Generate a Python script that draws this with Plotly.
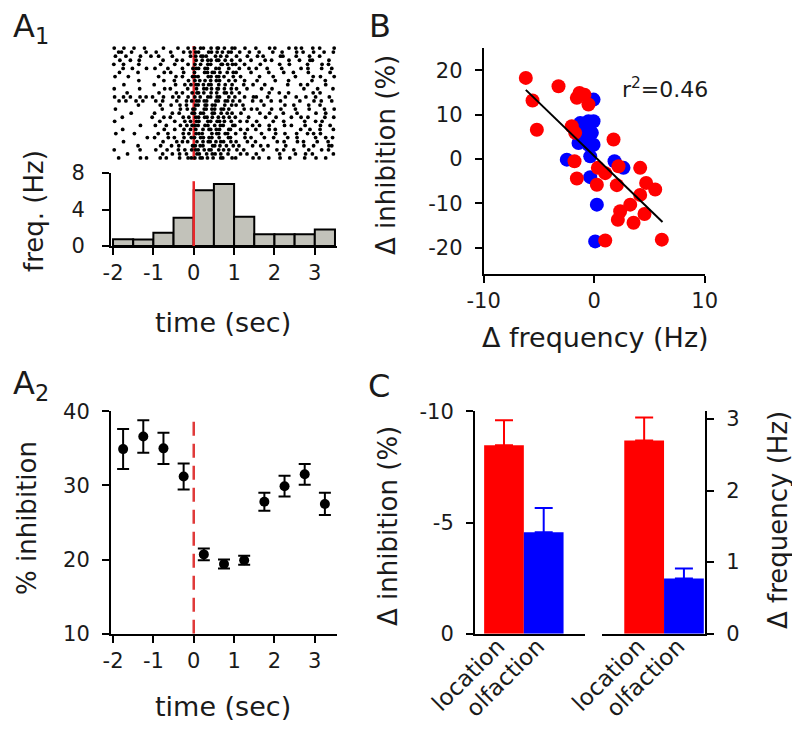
import plotly.graph_objects as go

# ---------------- data ----------------
# A1 raster: one string per trial; each char is a 0.1 s bin starting at -2 s.
# '.' = no spike, digit d = spike at d/10 of the way through that bin.
raster_t0 = -2.0
raster_dt = 0.1
raster_rows = [
    "3.7..2.8.." "..5...1.6." "274.3816.5" "2.7.." "4..8.1..6." "37..5.2..8",
    ".41.6...2." "7...3..5.1" "52.748.163" ".4.8." ".2..6.9..." "5.1.7..3.6",
    "6..2..8..4" ".3..7....2" "5831.47.2." "6..3." "8.2...51.." "4..7..2...",
    ".7..3.5..." "..4..8.2.." "6.153728.4" ".5..2" "..7.3...6." ".2.84...5.",
    "2.6...4..." ".8...3..6." "37.52.8146" "4.6.." ".5....3.7." "...2..8.4.",
    "..5.8...3." "4..6...2.8" "6284.53.7." ".3.7." "5..2..8..." ".6.3..7..2",
    ".6....2..." "..7.3..5.." "2.74615.38" "5...2" "...6...3.7" "...4....8.",
    "5..8......" ".3...6.2.7" "41.63725.8" ".6..." ".3..7....." "2...6.4..8",
    "......4..." "..6..2..7." "358.264.7." "3.6.." "7....2..5." "....3..6..",
    "..7......." "2....5.8.3" "61473.28.5" "..4.7" "..6.....3." ".5.2...7..",
    "3.....6..." "..8.2...5." "7.524816.3" "6..2." ".8..4....." "..3..7...5",
    "...5......" ".4...7.2.6" "825.37.614" ".3..." "...7..2.5." "....6.3...",
    "4.6.3.7.28" "..5.8.3.6." "36.5284.7." "2.6.8" "5..3...7.." "4.8..2..6.",
    ".5.2.7.4.." "6.3..8..25" "7362.51847" ".4..6" ".7..2.5..." ".3..8.6..2",
    "......3..." ".7..4.6.2." "518263.7.4" "5.2.." "..4....6.8" "...5..3...",
    "6........." "..2...7.48" "3.6152847." "..5.3" "7...3.6..." "2..6...4.8",
    "....5....." "3...7.4..6" "274.618.35" ".7..." ".4.8...2.." "6....3.7..",
    "..3......7" "..6.2..48." "52736.148." "3..6." "..8..4...2" ".6.3...5.7",
    "4........." ".6...3.8.2" "73.52846.3" ".5.2." "6...7..3.." "..5..28...",
    "......8..." "5..2..7.36" "4185.263.7" "2...6" ".3.7...5.2" "..6...4.8.",
    "..4......." "..7..3.6.2" "5.38264.71" ".6.3." "4..7.2...." ".5.8..3..6",
    "7....3...." ".2.6...48." "631.57284." "4.7.." ".8...3.6.." "5..27.4...",
    "........5." "3..7.2.6.4" "27485.3.61" "..7.2" "..5.8...3." "6....2.7.4",
    "..6......." "..4..8.25." "8.361574.2" "5..3." "3....7.4.." "7.2..6..3.",
    "......2..." ".8..5.3..7" "463.725.18" ".2..6" ".6.4...8.." "..3.7...52",
    "3.....7..." "6..4..28.5" "51683.247." "7.4.." "..2..6.3.8" "...5..7.4.",
    "...6......" "..3.7.5.2." "84.2637.5." ".6.2." "5.....3..." "2.7.4....6",
    ".4....8.3." ".7.2..5.64" "36148.72.5" "4...7" ".2.6..4.8." "..5..3.7..",
]

# A1 histogram (0.5 s bins)
hist_bin_left = [-2.0, -1.5, -1.0, -0.5, 0.0, 0.5, 1.0, 1.5, 2.0, 2.5, 3.0]
hist_bin_width = 0.5
hist_freq = [0.73, 0.70, 1.46, 3.1, 6.1, 6.8, 3.2, 1.3, 1.3, 1.3, 1.8]
stim_line_top_hz = 7.1

time_ticks = [-2, -1, 0, 1, 2, 3]
time_ticktext = ["-2", "-1", "0", "1", "2", "3"]
freq_ticks = [0, 4, 8]

# A2 % inhibition vs time
inh_time = [-1.75, -1.25, -0.75, -0.25, 0.25, 0.75, 1.25, 1.75, 2.25, 2.75, 3.25]
inh_mean = [34.9, 36.6, 35.0, 31.2, 20.7, 19.4, 19.9, 27.8, 29.9, 31.5, 27.5]
inh_sem = [2.7, 2.2, 2.1, 1.75, 0.8, 0.6, 0.6, 1.2, 1.4, 1.4, 1.5]
inh_ticks = [10, 20, 30, 40]
stim_line_top_inh = 39.6

# B scatter
red_dfreq = [-6.19, -3.23, -5.58, -5.19, -1.33, -0.88, -0.52, -1.57, -2.03, -1.72,
             1.75, -1.78, -1.57, 0.33, 1.0, 0.24, 2.2, 2.05, 4.16, 4.7,
             5.52, 4.16, 3.26, 2.35, 2.14, 3.56, 4.55, 1.0, 6.12]
red_dinh = [18.3, 16.4, 13.2, 6.6, 14.9, 14.5, 12.3, 13.8, 7.4, 5.9,
            4.4, -0.5, -4.4, -2.0, -3.2, -5.8, -1.65, -5.9, -2.0, -5.4,
            -6.9, -8.1, -10.3, -11.8, -13.7, -14.4, -12.4, -18.4, -18.2]
blue_dfreq = [-0.06, -1.27, -0.52, -0.06, -0.97, -0.21, -1.42, -0.52, -0.06, -0.36,
              -2.48, -0.36, 1.84, 2.65, 0.24, 0.09, -0.67]
blue_dinh = [13.4, 8.1, 8.5, 8.5, 5.9, 5.9, 3.6, 3.2, 3.2, 0.6,
             -0.15, -4.1, -0.5, -2.0, -10.3, -18.6, 4.7]
fit_x = [-6.19, 6.18]
fit_y = [15.6, -14.2]
b_xticks = [-10, 0, 10]
b_xticktext = ["-10", "0", "10"]
b_yticks = [-20, -10, 0, 10, 20]
b_yticktext = ["-20", "-10", "0", "10", "20"]

# C bars
c_categories = ["location", "olfaction"]
c_colors = ["#ff0000", "#0000ff"]
c_inhibition = [-8.47, -4.56]
c_inh_err = [1.13, 1.09]
c_frequency = [2.70, 0.77]
c_freq_err = [0.32, 0.14]
c_inh_ticks = [0, -5, -10]
c_inh_ticktext = ["0", "-5", "-10"]
c_freq_ticks = [0, 1, 2, 3]

# ---------------- helpers ----------------
W, H = 800, 729
FONT = "DejaVu Sans"
TXT = "#1a1a1a"


def px(x):
    return x / W


def py(y):
    return 1 - y / H


fig = go.Figure()

# ---- A1 raster ----
rx, ry = [], []
for r, row in enumerate(raster_rows):
    for c, ch in enumerate(row):
        if ch.isdigit():
            rx.append(raster_t0 + (c + int(ch) / 10) * raster_dt)
            ry.append(r)
fig.add_trace(go.Scatter(x=[0, 0], y=[-0.5, len(raster_rows) - 0.5], mode="lines",
                         line=dict(color="#e8262a", width=2.5), xaxis="x", yaxis="y"))
fig.add_trace(go.Scatter(x=rx, y=ry, mode="markers",
                         marker=dict(size=3.8, color="black", line=dict(width=0)),
                         xaxis="x", yaxis="y"))

# ---- A1 histogram ----
fig.add_trace(go.Bar(x=[b + hist_bin_width / 2 for b in hist_bin_left], y=hist_freq,
                     width=hist_bin_width,
                     marker=dict(color="#c2c2ba", line=dict(color="black", width=2)),
                     xaxis="x2", yaxis="y2"))
fig.add_trace(go.Scatter(x=[0, 0], y=[0, stim_line_top_hz], mode="lines",
                         line=dict(color="#e8262a", width=2.5), xaxis="x2", yaxis="y2"))

# ---- A2 ----
fig.add_trace(go.Scatter(x=[0, 0], y=[10, stim_line_top_inh], mode="lines",
                         line=dict(color="#e03a3a", width=2.5, dash="14px,8px"),
                         xaxis="x3", yaxis="y3"))
fig.add_trace(go.Scatter(x=inh_time, y=inh_mean, mode="markers",
                         marker=dict(size=10, color="black"),
                         error_y=dict(type="data", array=inh_sem, color="black",
                                      thickness=2, width=6),
                         xaxis="x3", yaxis="y3"))

# ---- B ----
fig.add_trace(go.Scatter(x=blue_dfreq, y=blue_dinh, mode="markers",
                         marker=dict(size=14, color="#0000ff"), xaxis="x4", yaxis="y4"))
fig.add_trace(go.Scatter(x=red_dfreq, y=red_dinh, mode="markers",
                         marker=dict(size=14, color="#ff0000"), xaxis="x4", yaxis="y4"))
fig.add_trace(go.Scatter(x=fit_x, y=fit_y, mode="lines",
                         line=dict(color="black", width=2), xaxis="x4", yaxis="y4"))

# ---- C ----
for i in range(2):
    fig.add_trace(go.Bar(x=[i], y=[c_inhibition[i]], width=1,
                         marker=dict(color=c_colors[i], line=dict(width=0)),
                         error_y=dict(type="data", symmetric=False, array=[0],
                                      arrayminus=[c_inh_err[i]], color=c_colors[i],
                                      thickness=2, width=9),
                         xaxis="x5", yaxis="y5"))
    fig.add_trace(go.Bar(x=[i], y=[c_frequency[i]], width=1,
                         marker=dict(color=c_colors[i], line=dict(width=0)),
                         error_y=dict(type="data", symmetric=False, array=[c_freq_err[i]],
                                      arrayminus=[0], color=c_colors[i],
                                      thickness=2, width=9),
                         xaxis="x6", yaxis="y6"))

common = dict(showgrid=False, zeroline=False, showline=True, linecolor="black",
              linewidth=2, ticks="outside", ticklen=7, tickwidth=2, tickcolor="black",
              tickfont=dict(family=FONT, size=21, color=TXT), fixedrange=True)
ycommon = dict(common, ticklabelstandoff=8)
catx = dict(common, ticks="", ticklen=0, tickangle=-45, ticklabelshift=-6,
            ticklabelstandoff=-12, tickfont=dict(family=FONT, size=23, color=TXT))

t_x0, t_x1 = px(103), px(329)
t_range = [-2.05, 3.55]

fig.update_layout(
    width=W, height=H, margin=dict(l=0, r=0, t=0, b=0, autoexpand=False),
    paper_bgcolor="white", plot_bgcolor="white", showlegend=False,
    xaxis=dict(domain=[t_x0, t_x1], range=t_range, visible=False, anchor="y"),
    yaxis=dict(domain=[py(152), py(38)], range=[len(raster_rows) - 0.5, -0.5],
               visible=False, anchor="x"),
    xaxis2=dict(common, domain=[t_x0, t_x1], range=t_range, anchor="y2",
                tickvals=time_ticks, ticktext=time_ticktext),
    yaxis2=dict(common, domain=[py(238), py(165)], range=[0, 8], anchor="x2",
                tickvals=freq_ticks, ticklabelstandoff=13),
    xaxis3=dict(common, domain=[t_x0, t_x1], range=t_range, anchor="y3",
                tickvals=time_ticks, ticktext=time_ticktext),
    yaxis3=dict(ycommon, domain=[py(625.7), py(403.3)], range=[10, 40], anchor="x3",
                tickvals=inh_ticks),
    xaxis4=dict(common, domain=[px(475.7), px(696.7)], range=[-10, 10], anchor="y4",
                tickvals=b_xticks, ticktext=b_xticktext),
    yaxis4=dict(ycommon, domain=[py(266.2), py(40.2)], range=[-26, 25], anchor="x4",
                tickvals=b_yticks, ticktext=b_yticktext),
    xaxis5=dict(catx, domain=[px(467), px(577)], range=[-0.73, 2.04], anchor="y5",
                tickvals=[0, 1], ticktext=c_categories),
    yaxis5=dict(ycommon, domain=[py(625.7), py(403.3)], range=[0, -10], anchor="x5",
                tickvals=c_inh_ticks, ticktext=c_inh_ticktext),
    xaxis6=dict(catx, domain=[px(594), px(697)], range=[-1.06, 1.53], anchor="y6",
                tickvals=[0, 1], ticktext=c_categories),
    yaxis6=dict(ycommon, domain=[py(625.7), py(403.3)], range=[0, 3.107], anchor="x6",
                side="right", tickvals=c_freq_ticks),
)


def note(text, x, y, size, angle=0, xanchor="center", yanchor="middle"):
    fig.add_annotation(text=text, x=px(x), y=py(y), xref="paper", yref="paper",
                       showarrow=False, textangle=angle, xanchor=xanchor,
                       yanchor=yanchor, font=dict(family=FONT, size=size, color=TXT))


# panel letters
note("A<sub>1</sub>", 3, -3, 32, xanchor="left", yanchor="top")
note("A<sub>2</sub>", 3, 354, 32, xanchor="left", yanchor="top")
note("B", 359, -3, 32, xanchor="left", yanchor="top")
note("C", 358, 357, 32, xanchor="left", yanchor="top")

# axis titles
note("freq. (Hz)", 26, 203, 26, angle=-90)
note("time (sec)", 215, 315, 27)
note("% inhibition", 19, 510, 26, angle=-90)
note("time (sec)", 215, 698, 27)
note("Δ inhibition (%)", 378, 147, 26, angle=-90)
note("Δ frequency (Hz)", 587, 330, 27)
note("Δ inhibition (%)", 380, 518, 26, angle=-90)
note("Δ frequency (Hz)", 770, 512, 26, angle=-90)
note("r<sup>2</sup>=0.46", 612, 80, 22, xanchor="left")

fig.write_html("out.html")
